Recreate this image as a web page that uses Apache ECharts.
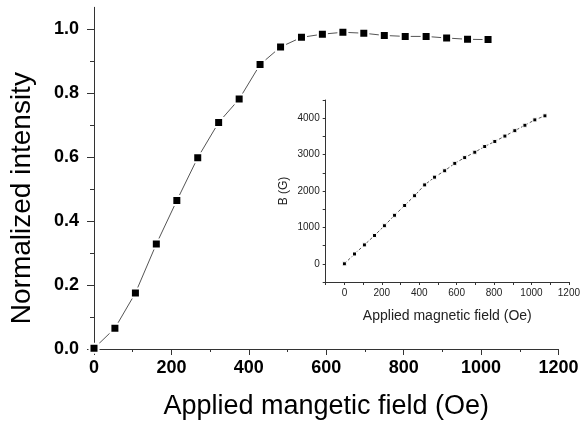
<!DOCTYPE html>
<html>
<head>
<meta charset="utf-8">
<script src="https://cdn.jsdelivr.net/npm/echarts@6/dist/echarts.min.js"></script>
<style>
html,body{margin:0;padding:0;background:#fff;}
#chart{width:583px;height:428px;}
</style>
</head>
<body>
<div id="chart"></div>
<script>
// Main plot data
var fieldMain = [0, 54, 107, 161, 214, 268, 322, 375, 429, 482, 536, 590, 643, 697, 750, 804, 858, 911, 965, 1018];
var intensity = [0.002, 0.065, 0.175, 0.328, 0.464, 0.598, 0.708, 0.781, 0.889, 0.944, 0.974, 0.984, 0.990, 0.987, 0.980, 0.977, 0.977, 0.972, 0.968, 0.967];
// Inset data
var fieldInset = [0, 54, 107, 161, 214, 268, 322, 375, 429, 482, 536, 590, 643, 697, 750, 804, 858, 911, 965, 1018, 1072];
var bField = [0, 270, 519, 778, 1046, 1333, 1602, 1870, 2167, 2380, 2556, 2759, 2917, 3065, 3222, 3361, 3509, 3657, 3806, 3954, 4065];
var mainYTicks = [0, 0.2, 0.4, 0.6, 0.8, 1.0];

var FONT = "'Liberation Sans', Arial, sans-serif";
function pairs(xs, ys){ return xs.map(function(x,i){ return [x, ys[i]]; }); }

var chart = echarts.init(document.getElementById('chart'), null, {renderer:'canvas'});
var axisColor = '#333';
chart.setOption({
  animation: false,
  backgroundColor: '#fff',
  grid: [
    {left: 91.5, right: 24.5, top: 7.3, bottom: 79},
    {left: 325.7, right: 12, top: 100, bottom: 146}
  ],
  xAxis: [
    {
      gridIndex: 0, type: 'value', min: 0, max: 1200, interval: 200,
      name: 'Applied mangetic field (Oe)', nameLocation: 'middle', nameGap: 44,
      nameTextStyle: {fontFamily: FONT, fontSize: 27, color: '#000'},
      axisLine: {show: true, onZero: false, lineStyle: {color: axisColor, width: 1}},
      axisTick: {show: true, inside: false, length: 6, lineStyle: {color: axisColor}},
      minorTick: {show: true, splitNumber: 2, length: 3, lineStyle: {color: axisColor}},
      axisLabel: {fontFamily: FONT, fontSize: 18, fontWeight: 'bold', color: '#000', margin: 10,
        formatter: function(v){ return String(v); }},
      splitLine: {show: false}
    },
    {
      gridIndex: 1, type: 'value', min: -100, max: 1200, interval: 100,
      name: 'Applied magnetic field (Oe)', nameLocation: 'middle', nameGap: 27,
      nameTextStyle: {fontFamily: FONT, fontSize: 14, color: '#222'},
      axisLine: {show: true, onZero: false, lineStyle: {color: axisColor, width: 1}},
      axisTick: {show: true, inside: false, length: 3, lineStyle: {color: axisColor}},
      axisLabel: {fontFamily: FONT, fontSize: 10, color: '#222', margin: 6,
        formatter: function(v){ return (v >= 0 && v % 200 === 0) ? String(v) : ''; }},
      splitLine: {show: false}
    }
  ],
  yAxis: [
    {
      gridIndex: 0, type: 'value', min: 0, max: 1.068, interval: 0.2,
      name: 'Normalized intensity', nameLocation: 'middle', nameGap: 58,
      nameTextStyle: {fontFamily: FONT, fontSize: 28, color: '#000', padding: [0, 40, 0, 0]},
      axisLine: {show: true, onZero: false, lineStyle: {color: axisColor, width: 1}},
      axisTick: {show: true, inside: false, length: 7, customValues: mainYTicks, lineStyle: {color: axisColor}},
      minorTick: {show: true, splitNumber: 2, length: 4, lineStyle: {color: axisColor}},
      axisLabel: {fontFamily: FONT, fontSize: 18, fontWeight: 'bold', color: '#000', margin: 15,
        customValues: mainYTicks,
        formatter: function(v){ return Number(v).toFixed(1); }},
      splitLine: {show: false}
    },
    {
      gridIndex: 1, type: 'value', min: -500, max: 4500, interval: 500,
      name: 'B (G)', nameLocation: 'middle', nameGap: 36,
      nameTextStyle: {fontFamily: FONT, fontSize: 12, color: '#222'},
      axisLine: {show: true, onZero: false, lineStyle: {color: axisColor, width: 1}},
      axisTick: {show: true, inside: false, length: 3, lineStyle: {color: axisColor}},
      axisLabel: {fontFamily: FONT, fontSize: 10, color: '#222', margin: 6,
        formatter: function(v){ return (v >= 0 && v % 1000 === 0) ? String(v) : ''; }},
      splitLine: {show: false}
    }
  ],
  series: [
    {
      type: 'line', xAxisIndex: 0, yAxisIndex: 0,
      data: pairs(fieldMain, intensity),
      symbol: 'rect', symbolSize: 9, clip: false,
      lineStyle: {color: '#555', width: 1},
      itemStyle: {color: '#000', borderColor: '#fff', borderWidth: 2}
    },
    {
      type: 'line', xAxisIndex: 1, yAxisIndex: 1,
      data: pairs(fieldInset, bField),
      symbol: 'rect', symbolSize: 4,
      lineStyle: {color: '#555', width: 1, type: [3, 2]},
      itemStyle: {color: '#000', borderColor: '#fff', borderWidth: 1}
    }
  ]
});
</script>
</body>
</html>
